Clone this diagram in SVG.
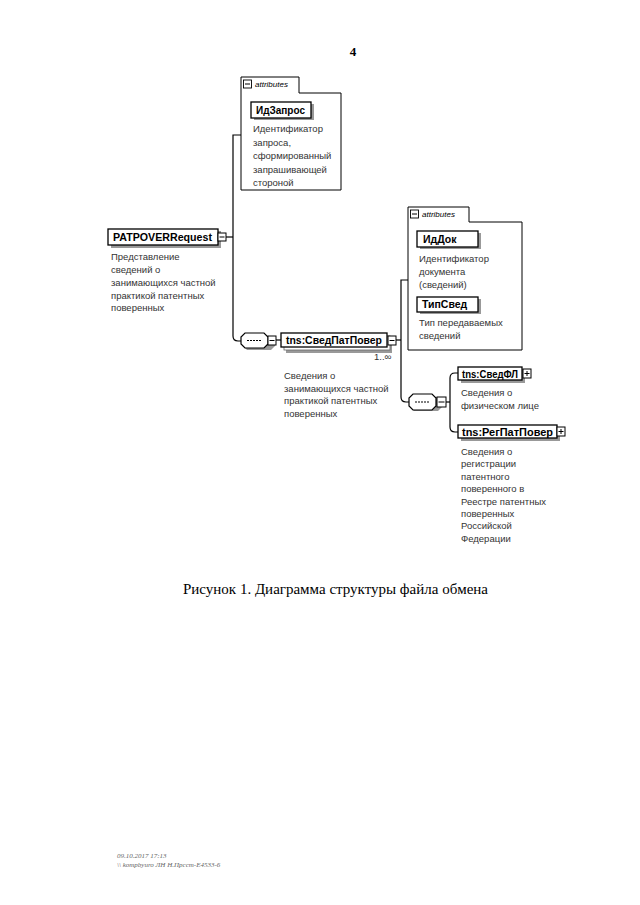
<svg xmlns="http://www.w3.org/2000/svg" width="640" height="905" viewBox="0 0 640 905">
<style>
.t{font-family:"Liberation Sans",Arial,sans-serif;font-size:9.5px;fill:#333}
.b{font-family:"Liberation Sans",Arial,sans-serif;font-size:10.5px;font-weight:bold;fill:#000}
.it{font-family:"Liberation Sans",Arial,sans-serif;font-size:8px;font-style:italic;fill:#000}
.box{fill:#fff;stroke:#000;stroke-width:1.3}
.sh{fill:#999;stroke:none}
.ln{fill:none;stroke:#000;stroke-width:1.2}
.att{fill:#fff;stroke:#000;stroke-width:1}
</style>
<rect width="640" height="905" fill="#fff"/>
<text x="353" y="56" font-family="Liberation Serif,serif" font-size="13" font-weight="bold" text-anchor="middle">4</text>

<g id="connectors">
<path class="ln" d="M241,135 H233 V336 Q233,341 238,341 H241"/>
<path class="ln" d="M226,237 H233"/>
<path class="ln" d="M276,340 H281"/>
<path class="ln" d="M396,340 H401"/>
<path class="ln" d="M408,280 H401 V397 Q401,402 406,402 H409"/>
<path class="ln" d="M446,402 H450"/>
<path class="ln" d="M458,373 H455 Q450,373 450,378 V427 Q450,432 455,432 H458"/>
</g>

<g id="attributes1">
<path class="att" d="M241,93 V77 H299 V93 H341 V190 H241 Z"/>
<rect x="243.5" y="80" width="8" height="8" fill="#fff" stroke="#000" stroke-width="0.9"/>
<line x1="245" y1="84" x2="250" y2="84" stroke="#000" stroke-width="1"/>
<text class="it" x="255" y="87">attributes</text>
</g>

<g id="IdZapros">
<rect class="sh" x="254" y="104" width="60" height="16"/>
<rect class="box" x="251" y="102" width="60" height="16"/>
<text class="b" x="256" y="114" textLength="49" lengthAdjust="spacingAndGlyphs">ИдЗапрос</text>
<text class="t"><tspan x="253" y="132">Идентификатор</tspan><tspan x="253" y="146">запроса,</tspan><tspan x="253" y="159">сформированный</tspan><tspan x="253" y="173">запрашивающей</tspan><tspan x="253" y="186">стороной</tspan></text>
</g>

<g id="PATPOVERRequest">
<rect class="sh" x="111" y="231" width="110" height="17"/>
<rect class="box" x="108" y="229" width="110" height="16"/>
<text class="b" x="113" y="241" textLength="99" lengthAdjust="spacingAndGlyphs">PATPOVERRequest</text>
<rect x="218" y="233" width="8" height="8" fill="#fff" stroke="#000" stroke-width="1"/>
<line x1="219.5" y1="237" x2="224.5" y2="237" stroke="#000" stroke-width="1"/>
<text class="t"><tspan x="111" y="260">Представление</tspan><tspan x="111" y="273">сведений о</tspan><tspan x="111" y="286">занимающихся частной</tspan><tspan x="111" y="299">практикой патентных</tspan><tspan x="111" y="311">поверенных</tspan></text>
</g>

<g id="sequence1">
<path class="sh" d="M247,336 H271 L275,340 V346 L271,350 H247 L243,346 V340 Z"/>
<path fill="#fff" stroke="#000" stroke-width="1.2" d="M245,333 H264 L268,337 V344 L264,348 H245 L241,344 V337 Z"/>
<line x1="247" y1="340.5" x2="262" y2="340.5" stroke="#000" stroke-width="1.2" stroke-dasharray="2,1"/>
<rect x="268" y="336" width="8" height="9" fill="#fff" stroke="#000" stroke-width="1"/>
<line x1="269.5" y1="340.5" x2="274.5" y2="340.5" stroke="#000" stroke-width="1"/>
</g>

<g id="SvedPatPover">
<rect class="sh" x="286" y="338" width="106" height="15"/>
<rect x="284" y="336" width="106" height="14" fill="#fff" stroke="#666" stroke-width="0.8"/>
<rect class="box" x="281" y="333" width="106" height="14"/>
<text class="b" x="286" y="344" textLength="96" lengthAdjust="spacingAndGlyphs">tns:СведПатПовер</text>
<rect x="388" y="336" width="8" height="9" fill="#fff" stroke="#000" stroke-width="1"/>
<line x1="389.5" y1="340.5" x2="394.5" y2="340.5" stroke="#000" stroke-width="1"/>
<text class="t" x="374" y="360" font-size="8">1..∞</text>
<text class="t"><tspan x="284" y="379">Сведения о</tspan><tspan x="284" y="392">занимающихся частной</tspan><tspan x="284" y="404">практикой патентных</tspan><tspan x="284" y="417">поверенных</tspan></text>
</g>

<g id="attributes2">
<path class="att" d="M408,222 V207 H469 V222 H522 V350 H408 Z"/>
<rect x="410.5" y="210" width="8" height="8" fill="#fff" stroke="#000" stroke-width="0.9"/>
<line x1="412" y1="214" x2="417" y2="214" stroke="#000" stroke-width="1"/>
<text class="it" x="422" y="217">attributes</text>
</g>

<g id="IdDok">
<rect class="sh" x="420" y="233" width="61" height="16"/>
<rect class="box" x="417" y="231" width="61" height="16"/>
<text class="b" x="423" y="243">ИдДок</text>
<text class="t"><tspan x="419" y="262">Идентификатор</tspan><tspan x="419" y="275">документа</tspan><tspan x="419" y="288">(сведений)</tspan></text>
</g>

<g id="TipSved">
<rect class="sh" x="420" y="299" width="61" height="15"/>
<rect class="box" x="417" y="297" width="61" height="15"/>
<text class="b" x="422" y="308">ТипСвед</text>
<text class="t"><tspan x="419" y="326">Тип передаваемых</tspan><tspan x="419" y="339">сведений</tspan></text>
</g>

<g id="sequence2">
<path class="sh" d="M414,397 H438 L442,401 V407 L438,411 H414 L410,407 V401 Z"/>
<path fill="#fff" stroke="#000" stroke-width="1.2" d="M413,394 H432 L436,398 V406 L432,410 H413 L409,406 V398 Z"/>
<line x1="415" y1="402" x2="430" y2="402" stroke="#000" stroke-width="1.2" stroke-dasharray="2,1"/>
<rect x="437" y="397" width="9" height="10" fill="#fff" stroke="#000" stroke-width="1"/>
<line x1="438.5" y1="402" x2="444.5" y2="402" stroke="#000" stroke-width="1"/>
</g>

<g id="SvedFL">
<rect class="sh" x="461" y="369" width="64" height="14"/>
<rect class="box" x="458" y="367" width="64" height="13"/>
<text class="b" x="462" y="377.5" textLength="56" lengthAdjust="spacingAndGlyphs">tns:СведФЛ</text>
<rect x="523" y="369" width="8" height="9" fill="#fff" stroke="#000" stroke-width="1"/>
<path d="M524.5,373.5 H529.5 M527,371 V376" stroke="#000" stroke-width="1"/>
<text class="t"><tspan x="461" y="396">Сведения о</tspan><tspan x="461" y="409">физическом лице</tspan></text>
</g>

<g id="RegPatPover">
<rect class="sh" x="461" y="427" width="99" height="14"/>
<rect class="box" x="458" y="425" width="99" height="13"/>
<text class="b" x="462" y="435.5" textLength="91" lengthAdjust="spacingAndGlyphs">tns:РегПатПовер</text>
<rect x="557" y="427" width="8" height="9" fill="#fff" stroke="#000" stroke-width="1"/>
<path d="M558.5,431.5 H563.5 M561,429 V434" stroke="#000" stroke-width="1"/>
<text class="t"><tspan x="461" y="455">Сведения о</tspan><tspan x="461" y="467">регистрации</tspan><tspan x="461" y="480">патентного</tspan><tspan x="461" y="492">поверенного в</tspan><tspan x="461" y="505">Реестре патентных</tspan><tspan x="461" y="517">поверенных</tspan><tspan x="461" y="529">Российской</tspan><tspan x="461" y="542">Федерации</tspan></text>
</g>

<text x="183" y="594" font-family="Liberation Serif,serif" font-size="15" fill="#000" textLength="305" lengthAdjust="spacingAndGlyphs">Рисунок 1. Диаграмма структуры файла обмена</text>

<text font-family="Liberation Serif,serif" font-size="7" font-style="italic" fill="#666"><tspan x="117" y="858">09.10.2017 17:13</tspan><tspan x="117" y="867">\\ kompbyuro ЛН Н.Прсст-E4533-6</tspan></text>
</svg>
